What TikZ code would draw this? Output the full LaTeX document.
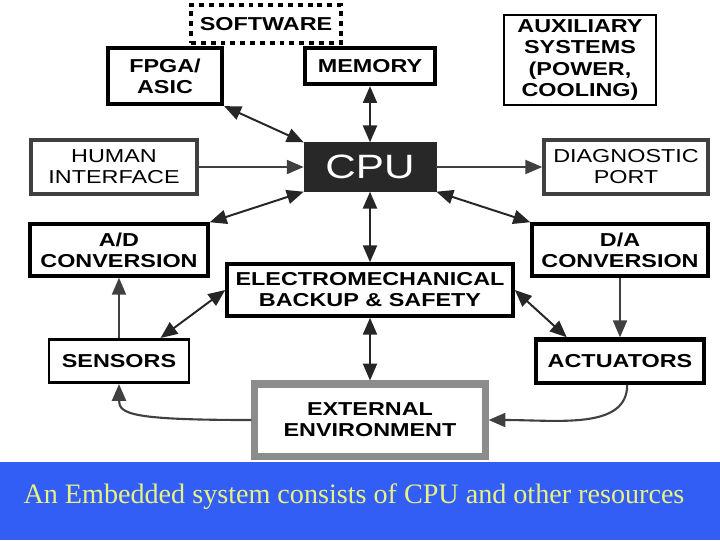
\documentclass[tikz,border=0pt]{standalone}
\usepackage{fontspec}
\setmainfont{Liberation Serif}
\newfontfamily\boxfont[FakeStretch=1.25]{Liberation Sans}
\usetikzlibrary{arrows.meta}
\definecolor{bandblue}{RGB}{51,94,245}
\definecolor{captext}{RGB}{232,242,130}
\definecolor{cpufill}{RGB}{40,40,40}

\begin{document}
\begin{tikzpicture}[
    x=0.025cm, y=-0.025cm,
    mybox/.style={draw=black, line width=2.5pt, align=center, inner sep=0pt,
        font=\boxfont\bfseries\fontsize{13.3}{15}\selectfont},
    mylight/.style={mybox, draw=black!75, font=\boxfont\fontsize{13.3}{15}\selectfont},
    myarrow/.style={{Triangle[length=12pt,width=10pt]}-{Triangle[length=12pt,width=10pt]},
        line width=1.4pt, black!85},
    onearrow/.style={-{Triangle[length=12pt,width=10pt]}, line width=1.2pt, black!75},
    mycaption/.style={font=\fontsize{20}{22}\selectfont, text=captext}
]
    \useasboundingbox (0,0) rectangle (720,540);

    % Top row
    \node[mybox, line width=3pt, dash pattern=on 3.5pt off 3.5pt,
        minimum width=3.75cm, minimum height=0.95cm] (soft) at (266,24) {SOFTWARE};
    \node[mybox, line width=3pt, minimum width=2.85cm, minimum height=1.4cm] (fpga) at (165,76) {FPGA/\\ASIC};
    \node[mybox, line width=3pt, minimum width=3.25cm, minimum height=0.9cm] (mem) at (370,66) {MEMORY};
    \node[mybox, line width=1.6pt, minimum width=3.8cm, minimum height=2.25cm] (aux) at (580,60)
        {AUXILIARY\\SYSTEMS\\(POWER,\\COOLING)};

    % CPU row
    \node[mylight, minimum width=4.15cm, minimum height=1.35cm] (human) at (114,167) {HUMAN\\INTERFACE};
    \node[draw=cpufill, fill=cpufill, text=white, minimum width=3.3cm, minimum height=1.22cm,
        inner sep=0pt, font=\boxfont\fontsize{24}{26}\selectfont] (cpu) at (370,167) {CPU};
    \node[mylight, minimum width=4.1cm, minimum height=1.35cm] (diag) at (626,167) {DIAGNOSTIC\\PORT};

    % Conversion row
    \node[mybox, minimum width=4.45cm, minimum height=1.3cm] (ad) at (119,250) {A/D\\CONVERSION};
    \node[mybox, minimum width=7.15cm, minimum height=1.3cm] (electro) at (370,290)
        {ELECTROMECHANICAL\\BACKUP \& SAFETY};
    \node[mybox, minimum width=4.4cm, minimum height=1.3cm] (da) at (620,250) {D/A\\CONVERSION};

    % Bottom row
    \node[mybox, line width=2pt, minimum width=3.5cm, minimum height=1.08cm] (sens) at (119,361) {SENSORS};
    \node[mybox, line width=3pt, minimum width=4.2cm, minimum height=1.08cm] (act) at (620,361) {ACTUATORS};
    \node[mybox, draw=black!45, line width=5pt, minimum width=5.75cm, minimum height=1.8cm] (ext) at (370,420)
        {EXTERNAL\\ENVIRONMENT};

    % Connections to CPU
    \draw[myarrow] (fpga.south east) -- (cpu.north west);
    \draw[myarrow] (mem.south) -- (cpu.north);
    \draw[onearrow] (human.east) -- (cpu.west);
    \draw[onearrow] (cpu.east) -- (diag.west);
    \draw[myarrow] (cpu.south west) -- (ad.north east);
    \draw[myarrow] (cpu.south east) -- (da.north west);
    \draw[myarrow] (cpu.south) -- (electro.north);

    % Lower connections
    \draw[onearrow] (sens.north) -- (ad.south);
    \draw[onearrow] (da.south) -- (act.north);
    \draw[myarrow] (electro.west) -- (sens.29);
    \draw[myarrow] (electro.east) -- (act.156);
    \draw[myarrow] (electro.south) -- (ext.north);
    \draw[onearrow, line width=1.5pt] (ext.west) .. controls +(-120,0) and +(0,30) .. (sens.south);
    \draw[onearrow, line width=1.5pt] ([xshift=0.18cm]act.south) .. controls +(0,45) and +(70,0) .. (ext.east);

    % Caption band
    \fill[bandblue] (0,462) rectangle (720,540);
    \node[mycaption] (cap) at (354,497) {An Embedded system consists of CPU and other resources};
\end{tikzpicture}
\end{document}
